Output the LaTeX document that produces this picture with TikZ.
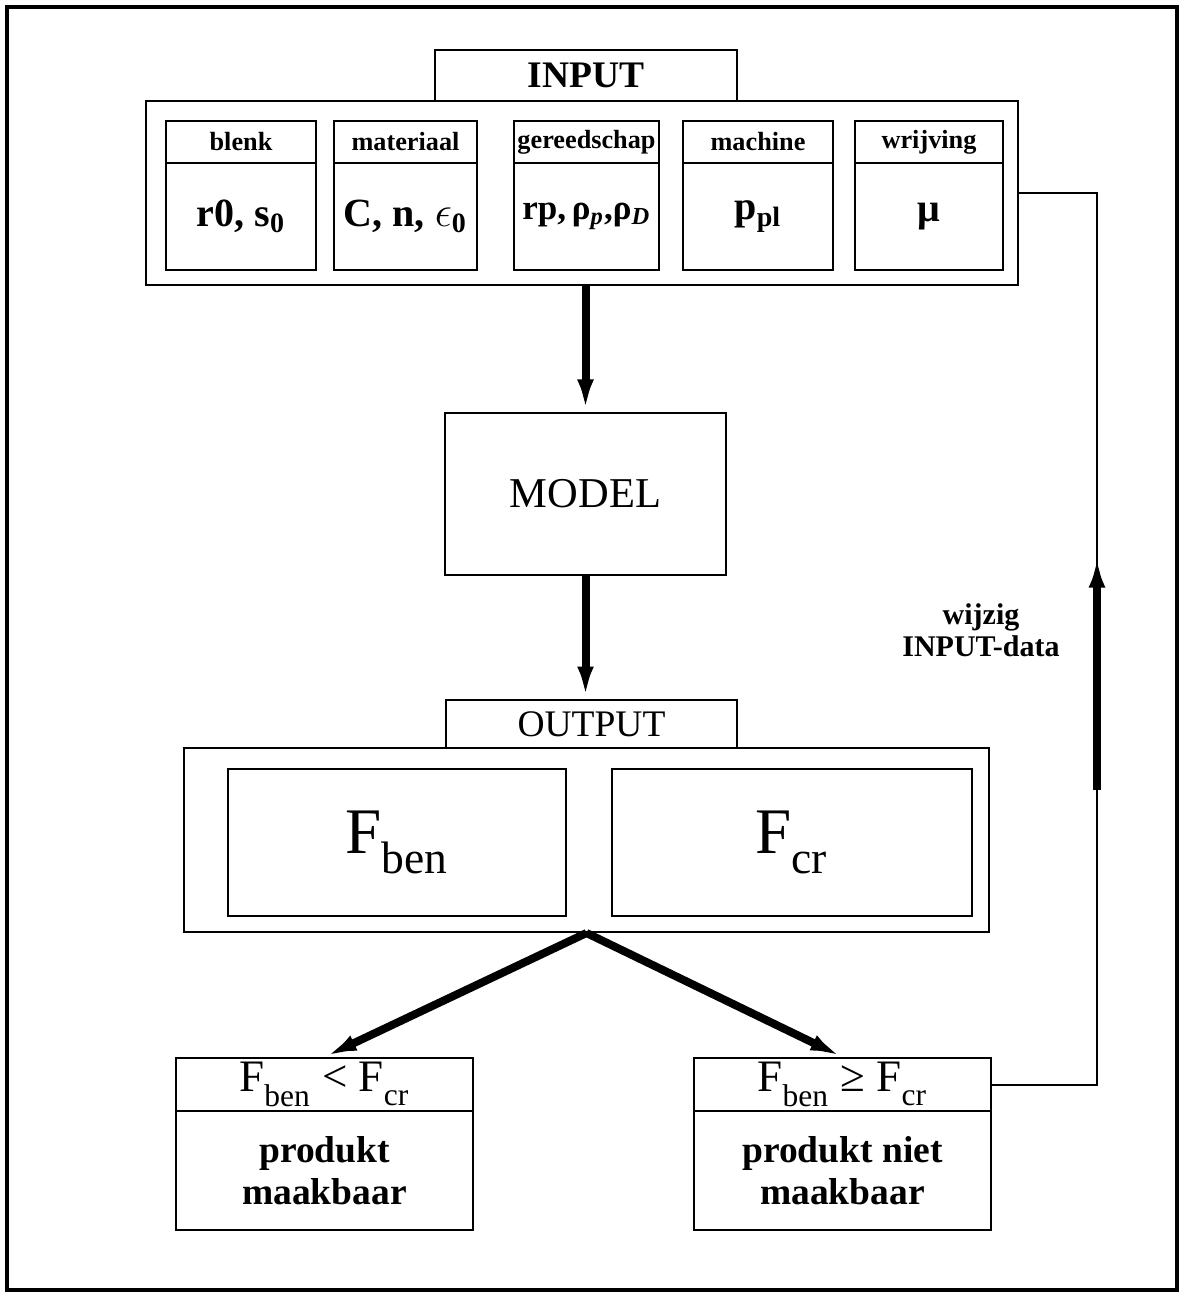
\documentclass[tikz,border=0pt]{standalone}
\usepackage{fontspec}
\setmainfont{Liberation Serif}
\usetikzlibrary{arrows.meta,positioning,calc}
\newcommand{\lowsub}[1]{\raisebox{-0.35ex}{\textsubscript{#1}}}

\begin{document}
\begin{tikzpicture}[
    x=0.4pt, y=-0.4pt,
    box/.style={draw, line width=0.8pt, inner sep=0pt, align=center},
    hdr/.style={box, font=\fontsize{10.5}{12}\selectfont\bfseries, minimum height=16.8pt},
    val/.style={box, font=\fontsize{16}{18}\selectfont\bfseries, minimum height=42.8pt},
    tabbox/.style={box, font=\fontsize{15}{18}\selectfont},
    bigF/.style={box, font=\fontsize{26}{30}\selectfont, minimum height=58.8pt},
    cond/.style={box, font=\fontsize{18}{20}\selectfont, minimum width=119pt, minimum height=21.2pt},
    result/.style={box, font=\fontsize{15}{17}\selectfont\bfseries, minimum width=119pt, minimum height=47.6pt},
    bigarr/.style={-{Latex[length=13pt,width=6.5pt]}, line width=3.2pt},
    thinline/.style={line width=0.8pt}
  ]
    \useasboundingbox (0,0) rectangle (1181,1297);
    \draw[line width=1.6pt] (7,7) rectangle (1177,1290);

    % input block
    \node[box, minimum width=348.8pt, minimum height=73.6pt] (inbox) at (582,193) {};
    \node[tabbox, font=\fontsize{15}{18}\selectfont\bfseries, minimum width=120.8pt, minimum height=20.4pt] (intab) at (586,75.5) {INPUT};
    \node[hdr, minimum width=60pt] (hblenk) at (241,142) {blenk};
    \node[val, minimum width=60pt] (vblenk) at (241,216.5) {r0, s\textsubscript{0}};
    \node[hdr, minimum width=57.2pt] (hmat) at (405.5,142) {materiaal};
    \node[val, minimum width=57.2pt] (vmat) at (405.5,216.5) {C, n, $\epsilon$\textsubscript{0}};
    \node[hdr, minimum width=58pt] (hgereed) at (586.5,142) {gereedschap};
    \node[val, minimum width=58pt, font=\fontsize{14}{16}\selectfont\bfseries] (vgereed) at (586.5,216.5) {rp,\,ρ\textsubscript{\textit{p}},ρ\textsubscript{\textit{D}}};
    \node[hdr, minimum width=60pt] (hmach) at (758,142) {machine};
    \node[val, minimum width=60pt] (vmach) at (758,216.5) {p\textsubscript{pl}};
    \node[hdr, minimum width=59.2pt] (hwrij) at (929,142) {wrijving};
    \node[val, minimum width=59.2pt] (vwrij) at (929,216.5) {μ};

    % model
    \node[box, font=\fontsize{17}{20}\selectfont, minimum width=112.4pt, minimum height=64.8pt] (model) at (585.5,494) {MODEL};

    % output block
    \node[box, minimum width=322pt, minimum height=73.6pt] (outbox) at (586.5,840) {};
    \node[tabbox, minimum width=116.4pt, minimum height=19.2pt] (outtab) at (591.5,724) {OUTPUT};
    \node[bigF, minimum width=135.2pt] (fben) at (397,842.5) {F\lowsub{ben}};
    \node[bigF, minimum width=144pt] (fcr) at (792,842.5) {F\lowsub{cr}};

    % decision boxes
    \node[cond] (lhead) at (324.5,1084.5) {F\lowsub{ben} < F\lowsub{cr}};
    \node[result] (lbody) at (324.5,1170.5) {produkt\\maakbaar};
    \node[cond] (rhead) at (842.5,1084.5) {F\lowsub{ben} ≥ F\lowsub{cr}};
    \node[result] (rbody) at (842.5,1170.5) {produkt niet\\maakbaar};

    \node[font=\fontsize{12}{13}\selectfont\bfseries, align=center] (wijzig) at (981,630) {wijzig\\INPUT-data};

    \coordinate (fbup) at (1097,193);
    \coordinate (fblow) at (1097,790);
    \coordinate (fbhigh) at (1097,555);

    \draw[bigarr] (inbox.south -| model.north) -- (model.north);
    \draw[bigarr] (model.south) -- (model.south |- outtab.north);
    \foreach \b in {lhead,rhead}
      \draw[bigarr] (outbox.south) -- (\b.north);
    \draw[thinline] (rhead.east) -| (fbup) -- (inbox.east);
    \draw[bigarr] (fblow) -- (fbhigh);
  \end{tikzpicture}
\end{document}
